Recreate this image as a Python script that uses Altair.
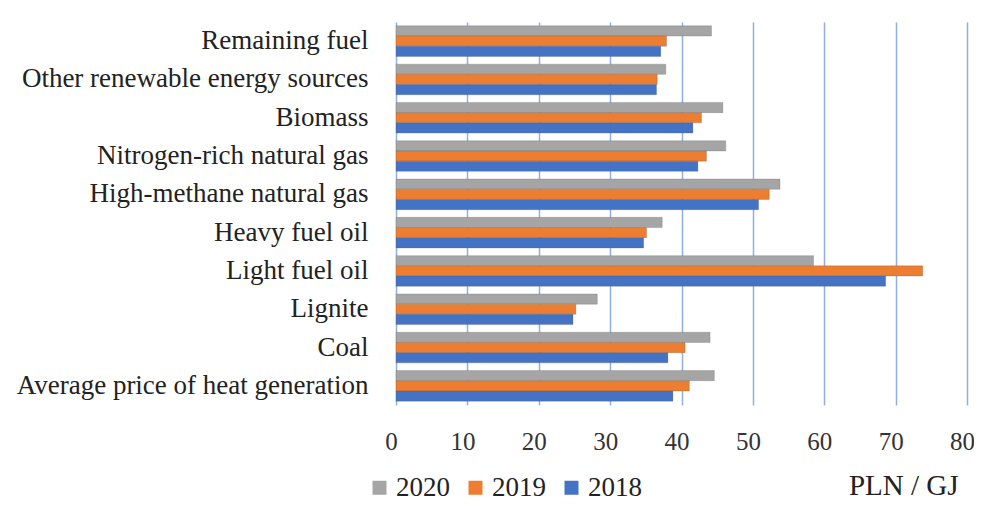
import altair as alt
import pandas as pd

categories = [
    "Remaining fuel",
    "Other renewable energy sources",
    "Biomass",
    "Nitrogen-rich natural gas",
    "High-methane natural gas",
    "Heavy fuel oil",
    "Light fuel oil",
    "Lignite",
    "Coal",
    "Average price of heat generation",
]
years = ["2020", "2019", "2018"]
v2020 = [44.2, 37.8, 45.8, 46.2, 53.8, 37.3, 58.5, 28.2, 44.0, 44.6]
v2019 = [37.9, 36.6, 42.8, 43.5, 52.3, 35.1, 73.8, 25.2, 40.5, 41.1]
v2018 = [37.1, 36.5, 41.6, 42.3, 50.8, 34.7, 68.6, 24.8, 38.1, 38.8]
colors = ["#a5a5a5", "#ed7d31", "#4472c4"]

rows = []
for yr, vals in zip(years, [v2020, v2019, v2018]):
    for c, v in zip(categories, vals):
        rows.append({"category": c, "year": yr, "value": v})
df = pd.DataFrame(rows)

FONT = "Liberation Serif"

chart = (
    alt.Chart(df)
    .mark_bar(stroke="#555555", strokeWidth=0.4, strokeOpacity=0.6)
    .encode(
        y=alt.Y(
            "category:N",
            sort=categories,
            scale=alt.Scale(paddingInner=0.2, paddingOuter=0.1),
            axis=alt.Axis(
                title=None,
                ticks=False,
                domain=False,
                grid=False,
                labelFont=FONT,
                labelFontSize=27,
                labelColor="#222222",
                labelPadding=28,
                labelLimit=420,
            ),
        ),
        yOffset=alt.YOffset("year:N", sort=years),
        x=alt.X(
            "value:Q",
            scale=alt.Scale(domain=[0, 80], nice=False),
            axis=alt.Axis(
                values=[0, 10, 20, 30, 40, 50, 60, 70, 80],
                grid=True,
                gridColor="#8fb0e0",
                gridWidth=1.5,
                domain=False,
                ticks=False,
                labelFont=FONT,
                labelFontSize=25,
                labelColor="#333333",
                labelPadding=24,
                labelOffset=-5,
                labelFlush=False,
                title="PLN / GJ",
                titleFont=FONT,
                titleFontSize=29,
                titleFontWeight="normal",
                titleColor="#222222",
                titleX=562,
                titleY=80,
                titleAlign="right",
                titleBaseline="middle",
                titleAnchor="end",
            ),
        ),
        color=alt.Color(
            "year:N",
            sort=years,
            scale=alt.Scale(domain=years, range=colors),
            legend=alt.Legend(
                title=None,
                orient="none",
                direction="horizontal",
                legendX=-30,
                legendY=452,
                padding=0,
                symbolType="square",
                symbolSize=196,
                symbolStrokeWidth=0,
                labelFont=FONT,
                labelFontSize=27,
                labelColor="#222222",
                columnPadding=12,
                labelOffset=3,
            ),
        ),
    )
    .properties(
        width=571,
        height=383,
        autosize=alt.AutoSizeParams(type="none"),
        padding={"left": 388, "top": 14, "right": 7, "bottom": 97},
    )
    .configure_view(stroke=None)
)

chart.save("out.html", embed_options={"renderer": "svg", "actions": False})
